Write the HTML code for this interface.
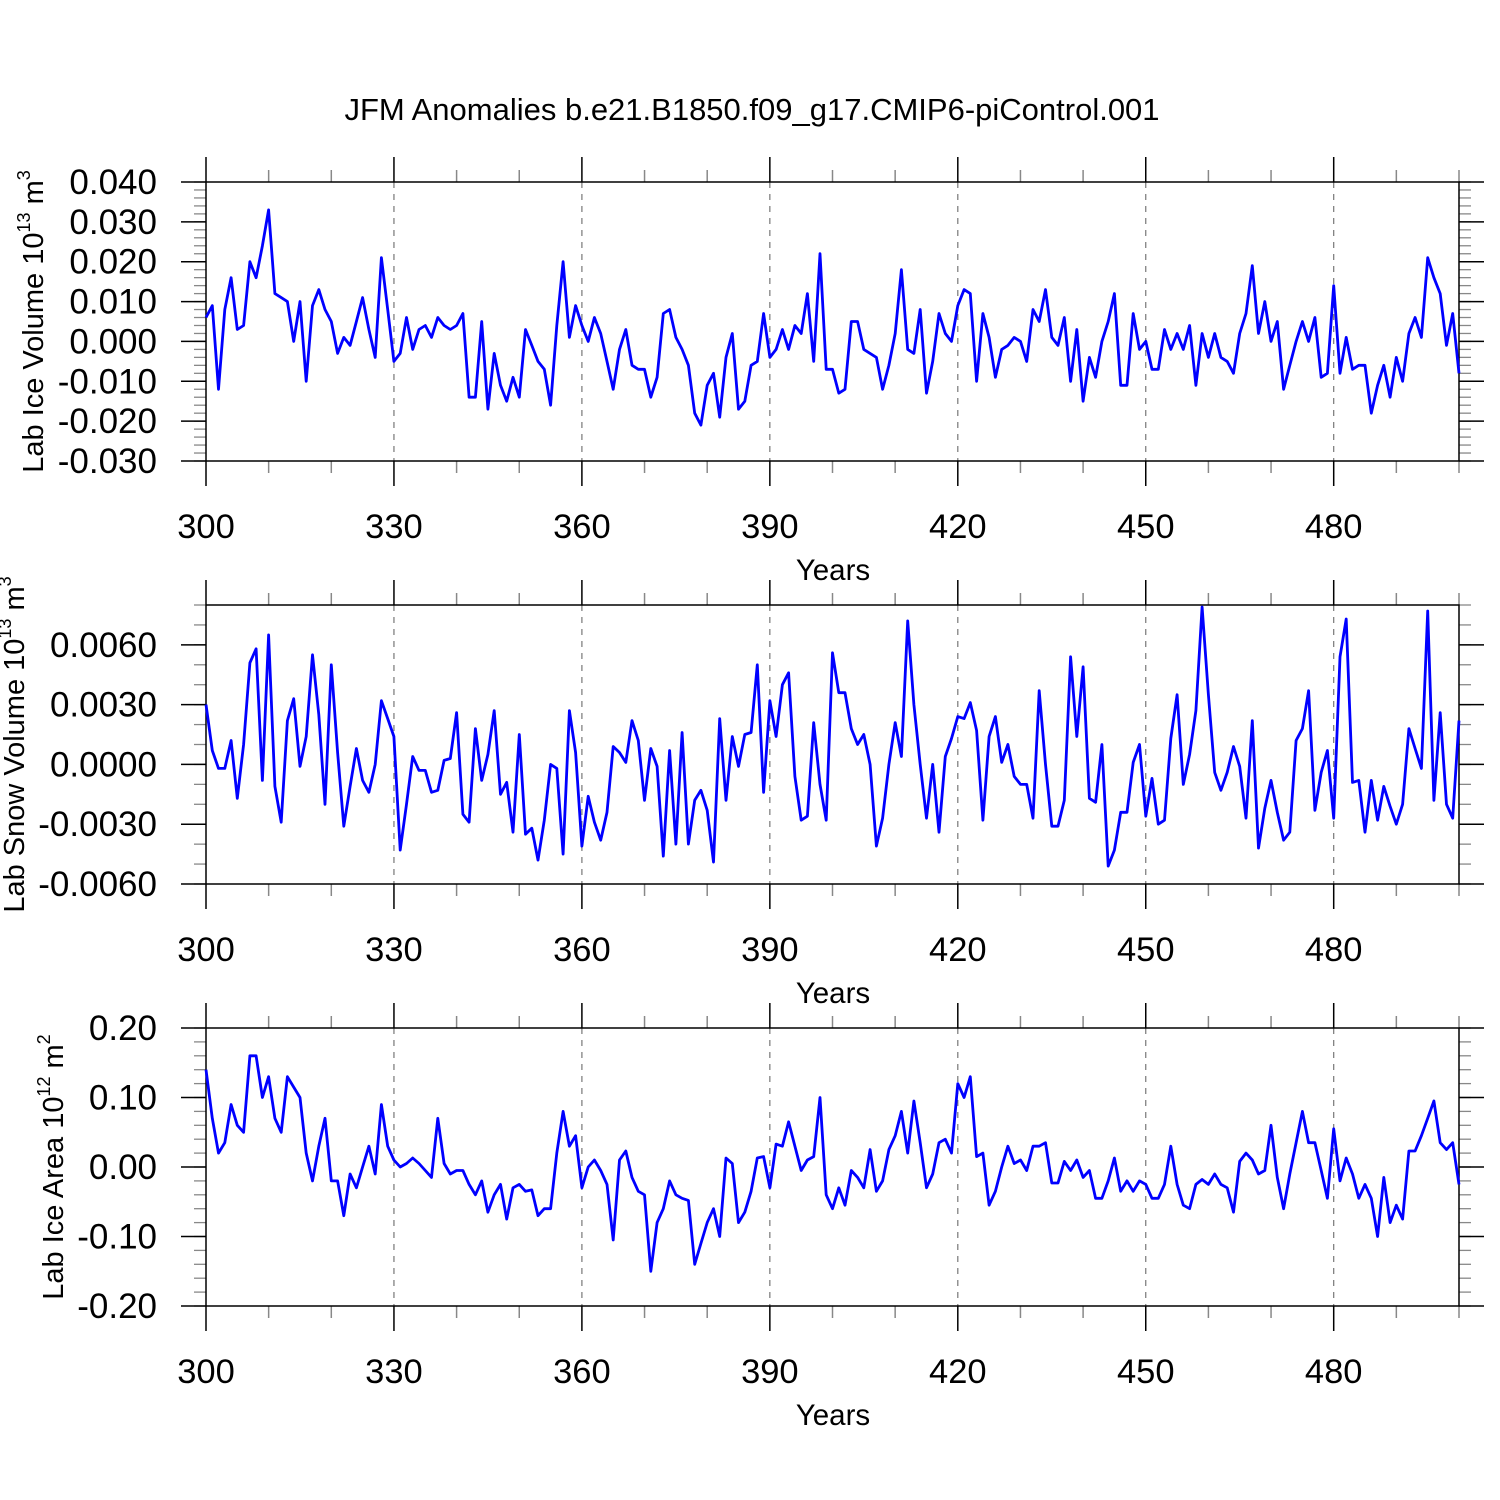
<!DOCTYPE html>
<html><head><meta charset="utf-8"><style>
html,body{margin:0;padding:0;background:#fff;}
svg{display:block;font-family:"Liberation Sans",sans-serif;}
</style></head><body>
<svg id="chart" width="1500" height="1500" viewBox="0 0 1500 1500" xmlns="http://www.w3.org/2000/svg">
<text x="752" y="120" font-size="31" text-anchor="middle">JFM Anomalies b.e21.B1850.f09_g17.CMIP6-piControl.001</text>
</svg>
<script>
const startYear = 300;
const iceVolume = [6,9,-12,8,16,3,4,20,16,24,33,12,11,10,0,10,-10,9,13,8,5,-3,1,-1,5,11,3,-4,21,8,-5,-3,6,-2,3,4,1,6,4,3,4,7,-14,-14,5,-17,-3,-11,-15,-9,-14,3,-1,-5,-7,-16,4,20,1,9,4,0,6,2,-5,-12,-2,3,-6,-7,-7,-14,-9,7,8,1,-2,-6,-18,-21,-11,-8,-19,-4,2,-17,-15,-6,-5,7,-4,-2,3,-2,4,2,12,-5,22,-7,-7,-13,-12,5,5,-2,-3,-4,-12,-6,2,18,-2,-3,8,-13,-5,7,2,0,9,13,12,-10,7,1,-9,-2,-1,1,0,-5,8,5,13,1,-1,6,-10,3,-15,-4,-9,0,5,12,-11,-11,7,-2,0,-7,-7,3,-2,2,-2,4,-11,2,-4,2,-4,-5,-8,2,7,19,2,10,0,5,-12,-6,0,5,0,6,-9,-8,14,-8,1,-7,-6,-6,-18,-11,-6,-14,-4,-10,2,6,1,21,16,12,-1,7,-8];
const snowVolume = [30,7,-2,-2,12,-17,10,51,58,-8,65,-11,-29,22,33,-1,14,55,25,-20,50,6,-31,-11,8,-8,-14,0,32,23,14,-43,-20,4,-3,-3,-14,-13,2,3,26,-25,-29,18,-8,5,27,-15,-9,-34,15,-35,-32,-48,-28,0,-2,-45,27,6,-41,-16,-29,-38,-24,9,6,1,22,12,-18,8,-1,-46,7,-40,16,-40,-18,-13,-23,-49,23,-18,14,-1,15,16,50,-14,32,14,40,46,-6,-28,-26,21,-10,-28,56,36,36,18,10,15,0,-41,-27,0,21,4,72,30,0,-27,0,-34,4,13,24,23,31,17,-28,14,24,1,10,-6,-10,-10,-27,37,0,-31,-31,-18,54,14,49,-17,-19,10,-51,-43,-24,-24,1,10,-26,-7,-30,-28,13,35,-10,5,27,79,35,-4,-13,-4,9,-1,-27,22,-42,-22,-8,-24,-38,-34,12,18,37,-23,-4,7,-27,54,73,-9,-8,-34,-8,-28,-11,-21,-30,-20,18,8,-2,77,-18,26,-20,-27,22];
const iceArea = [14,7,2,3.5,9,6,5,16,16,10,13,7,5,13,11.5,10,2,-2,3,7,-2,-2,-7,-1,-3,0,3,-1,9,3,1,0,0.5,1.3,0.5,-0.5,-1.5,7,0.5,-1,-0.5,-0.5,-2.5,-4,-2,-6.5,-4,-2.5,-7.5,-3,-2.5,-3.5,-3.3,-7,-6,-6,2,8,3,4.5,-3,0,1,-0.5,-2.5,-10.5,1,2.3,-1.5,-3.5,-4,-15,-8,-6,-2,-4,-4.5,-4.8,-14,-11,-8,-6,-10,1.3,0.5,-8,-6.5,-3.5,1.3,1.5,-3,3.3,3,6.5,3,-0.5,1,1.5,10,-4,-6,-3,-5.5,-0.5,-1.5,-3,2.5,-3.5,-2,2.5,4.5,8,2,9.5,3.5,-3,-1,3.5,4,2,12,10,13,1.5,2,-5.5,-3.5,0,3,0.5,1,-0.5,3,3,3.5,-2.3,-2.3,0.8,-0.5,1,-1.5,-0.5,-4.5,-4.5,-2,1.3,-3.5,-2,-3.5,-2,-2.5,-4.5,-4.5,-2.5,3,-2.5,-5.5,-6,-2.5,-1.8,-2.5,-1,-2.5,-3,-6.5,0.8,2,1,-1,-0.5,6,-1.5,-6,-1,3.5,8,3.5,3.5,-0.5,-4.5,5.5,-2,1.3,-1,-4.5,-2.5,-4.5,-10,-1.5,-8,-5.5,-7.5,2.3,2.3,4.5,7,9.5,3.5,2.5,3.5,-2.5];
const xTickYears = [300,330,360,390,420,450,480];
const iceVolumeTicks = [0.040,0.030,0.020,0.010,0.000,-0.010,-0.020,-0.030];
const snowVolumeTicks = [0.0060,0.0030,0.0000,-0.0030,-0.0060];
const iceAreaTicks = [0.20,0.10,0.00,-0.10,-0.20];

const svg = document.getElementById('chart');
const NS = 'http://www.w3.org/2000/svg';
function mk(tag, attrs, parent) {
  const e = document.createElementNS(NS, tag);
  for (const k in attrs) e.setAttribute(k, attrs[k]);
  (parent || svg).appendChild(e);
  return e;
}
const X0 = 206, X1 = 1459;
function xScale(yr) { return X0 + (yr - 300) / 200 * (X1 - X0); }

const panels = [
  {name:'ice-volume', top:182, bot:461, vmin:-0.030, vmax:0.040, scale:0.001, data:iceVolume, ticks:iceVolumeTicks, dec:3, minor:0.002, tx:43, title:['Lab Ice Volume 10','13',' m','3']},
  {name:'snow-volume', top:605, bot:884, vmin:-0.006, vmax:0.0080, scale:0.0001, data:snowVolume, ticks:snowVolumeTicks, dec:4, minor:0.001, tx:24, title:['Lab Snow Volume 10','13',' m','3']},
  {name:'ice-area', top:1028, bot:1306, vmin:-0.20, vmax:0.20, scale:0.01, data:iceArea, ticks:iceAreaTicks, dec:2, minor:0.02, tx:63, title:['Lab Ice Area 10','12',' m','2']}
];

panels.forEach(p => {
  const g = mk('g', {});
  
  
  const yScale = v => p.bot - (v - p.vmin) / (p.vmax - p.vmin) * (p.bot - p.top);
  xTickYears.forEach(yr => {
    if (yr === 300) return;
    const l = mk('line', {x1:xScale(yr), x2:xScale(yr), y1:p.top, y2:p.bot, stroke:'#777', 'stroke-width':1.2, 'stroke-dasharray':'6,6'}, g);
    
    
  });
  for (let yr = 300; yr <= 500; yr += 10) {
    const major = (yr - 300) % 30 === 0;
    const len = major ? 25 : 12;
    const x = xScale(yr);
    mk('line', {x1:x, x2:x, y1:p.bot, y2:p.bot + len, stroke:major ? '#000' : '#888', 'stroke-width':1.5}, g);
    mk('line', {x1:x, x2:x, y1:p.top, y2:p.top - len, stroke:major ? '#000' : '#888', 'stroke-width':1.5}, g);
  }
  xTickYears.forEach(yr => {
    const t = mk('text', {x:xScale(yr), y:p.bot + 77, 'font-size':34.5, 'text-anchor':'middle'}, g);
    
    
    t.textContent = yr;
  });
  const xt = mk('text', {x:833, y:p.bot + 119, 'font-size':29.5, 'text-anchor':'middle'}, g);
  
  
  xt.textContent = 'Years';
  const nMin = Math.round((p.vmax - p.vmin) / p.minor);
  for (let i = 0; i <= nMin; i++) {
    const v = p.vmin + i * p.minor;
    const y = yScale(v);
    mk('line', {x1:X0 - 12, x2:X0, y1:y, y2:y, stroke:'#888', 'stroke-width':1.3}, g);
    mk('line', {x1:X1, x2:X1 + 12, y1:y, y2:y, stroke:'#888', 'stroke-width':1.3}, g);
  }
  p.ticks.forEach(v => {
    const y = yScale(v);
    mk('line', {x1:X0 - 25, x2:X0, y1:y, y2:y, stroke:'#000', 'stroke-width':1.5}, g);
    mk('line', {x1:X1, x2:X1 + 25, y1:y, y2:y, stroke:'#000', 'stroke-width':1.5}, g);
    const t = mk('text', {x:157, y:y + 12, 'font-size':35, 'text-anchor':'end'}, g);
    
    
    t.textContent = v.toFixed(p.dec);
  });
  const fr = mk('rect', {x:X0, y:p.top, width:X1 - X0, height:p.bot - p.top, fill:'none', stroke:'#000', 'stroke-width':1.5}, g);
  
  
  const cy = (p.top + p.bot) / 2;
  const yt = mk('text', {x:0, y:0, 'font-size':29, 'text-anchor':'middle', transform:`translate(${p.tx},${cy}) rotate(-90)`}, g);
  
  
  p.title.forEach((s, i) => {
    const ts = mk('tspan', i % 2 ? {'font-size':18, dy:-13} : (i > 0 ? {dy:13} : {}), yt);
    ts.textContent = s;
  });
  const pts = p.data.map((v, i) => xScale(startYear + i).toFixed(1) + ',' + yScale(v * p.scale).toFixed(1)).join(' ');
  const pl = mk('polyline', {points:pts, fill:'none', stroke:'#0000ff', 'stroke-width':2.8, 'stroke-linejoin':'round'}, g);
  
  
});
</script>
</body></html>
